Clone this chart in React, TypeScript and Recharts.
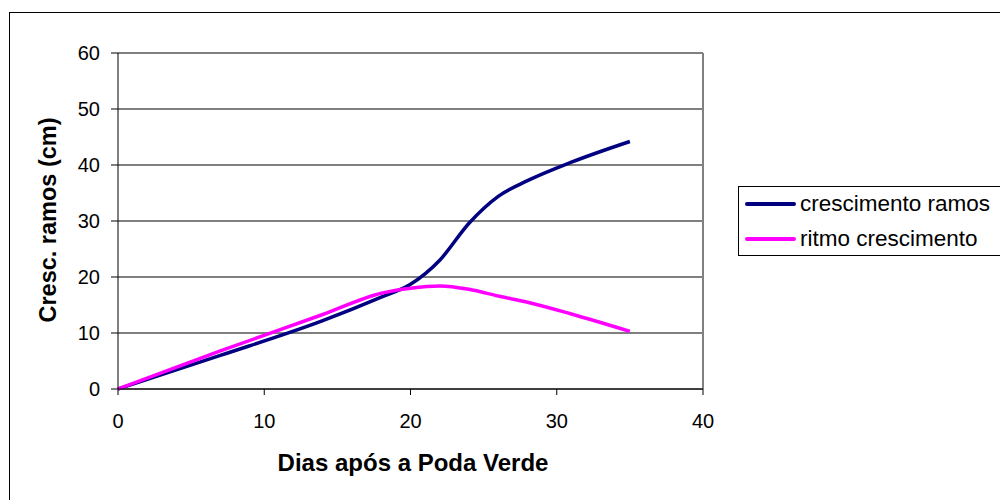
import React from 'react';
import { LineChart, Line, XAxis, YAxis, CartesianGrid, ReferenceLine } from 'recharts';

// dias após a poda verde
const dias = [0, 7, 14, 18, 20, 22, 24, 26, 28, 31, 35];
const crescimentoRamos = [0, 6.0, 12.2, 16.4, 18.7, 23.0, 29.6, 34.4, 37.2, 40.5, 44.2];
const ritmoCrescimento = [0, 6.8, 13.3, 17.1, 18.0, 18.4, 17.8, 16.6, 15.5, 13.4, 10.3];

const xTicks = [0, 10, 20, 30, 40];
const yTicks = [0, 10, 20, 30, 40, 50, 60];

const series = [
  { key: 'crescimento', name: 'crescimento ramos', color: '#000080', values: crescimentoRamos },
  { key: 'ritmo', name: 'ritmo crescimento', color: '#FF00FF', values: ritmoCrescimento },
];

const data = dias.map((d, i) => {
  const row: Record<string, number> = { dia: d };
  series.forEach((s) => { row[s.key] = s.values[i]; });
  return row;
});

const FONT = '"Liberation Sans", Arial, sans-serif';

export default function App() {
  return (
    <div style={{ position: 'absolute', left: 0, top: 0, width: 1000, height: 500, background: '#fff', overflow: 'hidden', fontFamily: FONT }}>
      {/* moldura externa */}
      <div style={{ position: 'absolute', left: 9, top: 12, width: 1000, height: 500, border: '1px solid #000' }} />

      <div style={{ position: 'absolute', left: 0, top: 0 }}>
        <LineChart width={1000} height={500} data={data} margin={{ top: 53, right: 297, bottom: 71, left: 48 }}>
          <CartesianGrid horizontal vertical={false} stroke="#000" strokeWidth={1} />
          <XAxis
            dataKey="dia"
            type="number"
            domain={[0, 40]}
            ticks={xTicks}
            height={40}
            tickSize={6}
            tickMargin={19}
            stroke="#000"
            tick={{ fill: '#000', fontSize: 20, fontFamily: FONT }}
          />
          <YAxis
            type="number"
            domain={[0, 60]}
            ticks={yTicks}
            width={70}
            tickSize={7}
            tickMargin={11}
            stroke="#000"
            tick={{ fill: '#000', fontSize: 20, fontFamily: FONT }}
          />
          <ReferenceLine y={60} stroke="#808080" strokeWidth={2} />
          <ReferenceLine x={40} stroke="#808080" strokeWidth={2} />
          {series.map((s) => (
            <Line
              key={s.key}
              type="monotone"
              dataKey={s.key}
              name={s.name}
              stroke={s.color}
              strokeWidth={3.5}
              dot={false}
              isAnimationActive={false}
            />
          ))}
        </LineChart>
      </div>

      {/* títulos dos eixos */}
      <div style={{ position: 'absolute', left: 413, top: 463, transform: 'translate(-50%, -50%)', fontSize: 24, fontWeight: 'bold', whiteSpace: 'nowrap', color: '#000' }}>
        Dias após a Poda Verde
      </div>
      <div style={{ position: 'absolute', left: 48, top: 220, transform: 'translate(-50%, -50%) rotate(-90deg)', fontSize: 23.5, fontWeight: 'bold', whiteSpace: 'nowrap', color: '#000' }}>
        Cresc. ramos (cm)
      </div>

      {/* legenda */}
      <div style={{ position: 'absolute', left: 738, top: 186, width: 300, height: 68, border: '1px solid #000', background: '#fff' }}>
        {series.map((s, i) => (
          <div key={s.key} style={{ position: 'absolute', left: 6, top: 2 + i * 35, height: 30, display: 'flex', alignItems: 'center' }}>
            <div style={{ width: 51, height: 4, background: s.color, borderRadius: 2 }} />
            <span style={{ marginLeft: 4, fontSize: 22.5, color: '#000', whiteSpace: 'nowrap' }}>{s.name}</span>
          </div>
        ))}
      </div>
    </div>
  );
}
